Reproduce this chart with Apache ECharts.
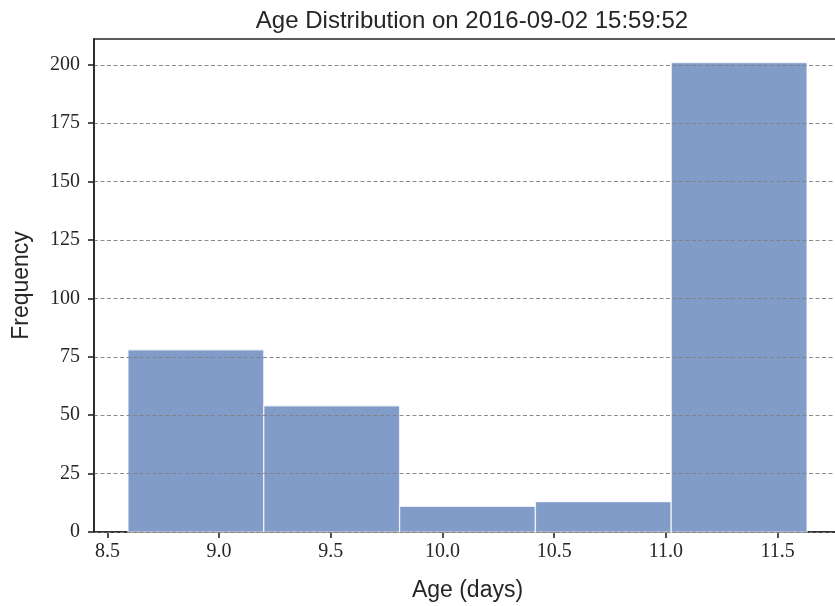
<!DOCTYPE html>
<html>
<head>
<meta charset="utf-8">
<script src="https://cdn.jsdelivr.net/npm/echarts@6/dist/echarts.min.js"></script>
<style>html,body{margin:0;padding:0;background:#fff}#c{width:835px;height:606px}</style>
</head>
<body>
<div id="c"></div>
<script>
var titleText = 'Age Distribution on 2016-09-02 15:59:52';
var xName = 'Age (days)';
var yName = 'Frequency';
var binEdges = [8.592, 9.200, 9.808, 10.416, 11.024, 11.632];
var counts = [78, 54, 11, 13, 201];
var xTicks = [8.5, 9.0, 9.5, 10.0, 10.5, 11.0, 11.5];
var yTicks = [0, 25, 50, 75, 100, 125, 150, 175, 200];

var span = binEdges[binEdges.length - 1] - binEdges[0];
var xMin = binEdges[0] - 0.05 * span;
var xMax = binEdges[binEdges.length - 1] + 0.05 * span;
var yMax = Math.max.apply(null, counts) * 1.05;

var data = counts.map(function (c, i) { return [binEdges[i], binEdges[i + 1], c]; });

var chart = echarts.init(document.getElementById('c'), null, {renderer: 'canvas'});
var dark = '#262626';
chart.setOption({
  animation: false,
  backgroundColor: '#fff',
  title: {
    text: titleText, left: 467, top: 4, textAlign: 'center',
    textStyle: {fontFamily: 'Liberation Sans', fontSize: 24, fontWeight: 'normal', color: dark}
  },
  grid: {left: 94, top: 39, width: 747, height: 493, containLabel: false, outerBoundsMode: 'none',
    show: true, borderColor: dark, borderWidth: 1.6, backgroundColor: 'transparent'},
  xAxis: {
    type: 'value', min: xMin, max: xMax,
    name: xName, nameLocation: 'middle', nameGap: 47,
    nameTextStyle: {fontFamily: 'Liberation Sans', fontSize: 23, color: dark},
    axisLine: {show: true, lineStyle: {color: dark, width: 1.6}},
    axisTick: {show: true, customValues: xTicks, length: 6, lineStyle: {color: dark, width: 1.6}},
    axisLabel: {show: true, customValues: xTicks, margin: 10, fontFamily: 'Liberation Serif', fontSize: 20, color: dark,
      formatter: function (v) { return v.toFixed(1); }},
    splitLine: {show: false}
  },
  yAxis: {
    type: 'value', min: 0, max: yMax, interval: 25, z: 5,
    name: yName, nameLocation: 'middle', nameGap: 61, nameRotate: 90,
    nameTextStyle: {fontFamily: 'Liberation Sans', fontSize: 23, color: dark},
    axisLine: {show: true, lineStyle: {color: dark, width: 1.6}},
    axisTick: {show: true, customValues: yTicks, length: 6, lineStyle: {color: dark, width: 1.6}},
    axisLabel: {show: true, customValues: yTicks, margin: 14, fontFamily: 'Liberation Serif', fontSize: 20, color: dark},
    splitLine: {show: true, lineStyle: {color: '#808080', width: 0.9, type: [4, 2.5]}}
  },
  series: [{
    type: 'custom',
    data: data,
    encode: {x: [0, 1], y: 2},
    renderItem: function (params, api) {
      var p0 = api.coord([api.value(0), api.value(2)]);
      var p1 = api.coord([api.value(1), 0]);
      return {
        type: 'rect',
        shape: {x: p0[0], y: p0[1], width: p1[0] - p0[0], height: p1[1] - p0[1]},
        style: {fill: 'rgba(76,114,176,0.7)', stroke: 'rgba(255,255,255,0.75)', lineWidth: 1.3}
      };
    }
  }]
});
</script>
</body>
</html>
